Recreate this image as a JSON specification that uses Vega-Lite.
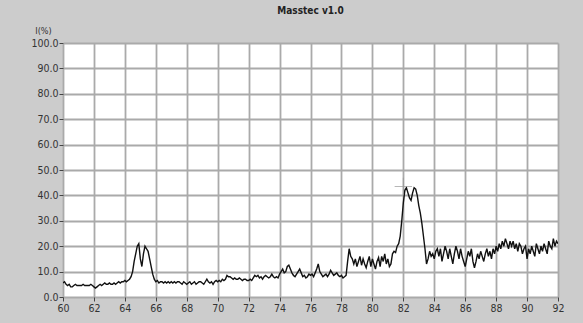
{
  "$schema": "https://vega.github.io/schema/vega-lite/v6.json",
  "width": 495,
  "height": 254,
  "autosize": "none",
  "padding": {"left": 63, "top": 43, "right": 25, "bottom": 26},
  "background": "#cccccc",
  "title": {"text": "Masstec v1.0", "anchor": "middle", "frame": "group", "offset": 10, "fontSize": 10, "fontWeight": "bold", "color": "#222222", "font": "DejaVu Sans Condensed, Liberation Sans"},
  "config": {
    "view": {"fill": "#ffffff", "stroke": null},
    "axis": {"labelFont": "DejaVu Sans Condensed, Liberation Sans", "labelFontSize": 10.5, "labelColor": "#333333", "labelOverlap": false, "gridColor": "#aaaaaa", "gridWidth": 1.8, "gridOpacity": 1, "domain": false, "tickColor": "#444444", "tickSize": 4, "tickWidth": 1}
  },
  "datasets": {
    "spectrum": [
      {"x":60.0,"y":5.5},{"x":60.1,"y":6},{"x":60.2,"y":5},{"x":60.3,"y":4.5},{"x":60.4,"y":5},{"x":60.5,"y":4},{"x":60.6,"y":4},{"x":60.7,"y":4.5},{"x":60.8,"y":5},{"x":60.9,"y":4.5},
      {"x":61.0,"y":4.5},{"x":61.1,"y":4.5},{"x":61.2,"y":4.5},{"x":61.3,"y":5},{"x":61.4,"y":4.5},{"x":61.5,"y":4.5},{"x":61.6,"y":4.5},{"x":61.7,"y":4.5},{"x":61.8,"y":5},{"x":61.9,"y":4.5},
      {"x":62.0,"y":4},{"x":62.1,"y":3.5},{"x":62.2,"y":4},{"x":62.3,"y":4.5},{"x":62.4,"y":5},{"x":62.5,"y":4.5},{"x":62.6,"y":5},{"x":62.7,"y":5.5},{"x":62.8,"y":5},{"x":62.9,"y":5},
      {"x":63.0,"y":5.5},{"x":63.1,"y":5},{"x":63.2,"y":5},{"x":63.3,"y":5.5},{"x":63.4,"y":5},{"x":63.5,"y":5.5},{"x":63.6,"y":6},{"x":63.7,"y":5.5},{"x":63.8,"y":6},{"x":63.9,"y":6},
      {"x":64.0,"y":6.5},{"x":64.1,"y":6},{"x":64.2,"y":6.5},{"x":64.3,"y":7},{"x":64.4,"y":8},{"x":64.5,"y":10},{"x":64.6,"y":14},{"x":64.7,"y":17},{"x":64.8,"y":20},{"x":64.9,"y":21},
      {"x":65.0,"y":15},{"x":65.1,"y":12},{"x":65.2,"y":17},{"x":65.3,"y":20},{"x":65.4,"y":19},{"x":65.5,"y":18},{"x":65.6,"y":15},{"x":65.7,"y":12},{"x":65.8,"y":9},{"x":65.9,"y":7},
      {"x":66.0,"y":6},{"x":66.1,"y":6.5},{"x":66.2,"y":5.5},{"x":66.3,"y":6},{"x":66.4,"y":6},{"x":66.5,"y":5.5},{"x":66.6,"y":6},{"x":66.7,"y":5.5},{"x":66.8,"y":6},{"x":66.9,"y":5.5},
      {"x":67.0,"y":6},{"x":67.1,"y":5.5},{"x":67.2,"y":6},{"x":67.3,"y":5.5},{"x":67.4,"y":6},{"x":67.5,"y":6},{"x":67.6,"y":5.5},{"x":67.7,"y":5},{"x":67.8,"y":6},{"x":67.9,"y":5.5},
      {"x":68.0,"y":5},{"x":68.1,"y":5.5},{"x":68.2,"y":6},{"x":68.3,"y":5},{"x":68.4,"y":5.5},{"x":68.5,"y":6},{"x":68.6,"y":5},{"x":68.7,"y":5.5},{"x":68.8,"y":6},{"x":68.9,"y":6},
      {"x":69.0,"y":5.5},{"x":69.1,"y":5},{"x":69.2,"y":6},{"x":69.3,"y":7},{"x":69.4,"y":6},{"x":69.5,"y":5.5},{"x":69.6,"y":6},{"x":69.7,"y":5},{"x":69.8,"y":6},{"x":69.9,"y":6.5},
      {"x":70.0,"y":6},{"x":70.1,"y":6.5},{"x":70.2,"y":6},{"x":70.3,"y":7},{"x":70.4,"y":6.5},{"x":70.5,"y":7},{"x":70.6,"y":8.5},{"x":70.7,"y":8},{"x":70.8,"y":8},{"x":70.9,"y":7.5},
      {"x":71.0,"y":7},{"x":71.1,"y":7.5},{"x":71.2,"y":7},{"x":71.3,"y":7},{"x":71.4,"y":7.5},{"x":71.5,"y":7},{"x":71.6,"y":6.5},{"x":71.7,"y":7},{"x":71.8,"y":7},{"x":71.9,"y":6.5},
      {"x":72.0,"y":6.5},{"x":72.1,"y":7},{"x":72.2,"y":6.5},{"x":72.3,"y":7.5},{"x":72.4,"y":8.5},{"x":72.5,"y":8},{"x":72.6,"y":8.5},{"x":72.7,"y":7.5},{"x":72.8,"y":8},{"x":72.9,"y":7},
      {"x":73.0,"y":8},{"x":73.1,"y":8.5},{"x":73.2,"y":8},{"x":73.3,"y":7.5},{"x":73.4,"y":8},{"x":73.5,"y":9},{"x":73.6,"y":8},{"x":73.7,"y":7.5},{"x":73.8,"y":8},{"x":73.9,"y":7.5},
      {"x":74.0,"y":9},{"x":74.1,"y":10},{"x":74.2,"y":11},{"x":74.3,"y":9.5},{"x":74.4,"y":10},{"x":74.5,"y":12},{"x":74.6,"y":12.5},{"x":74.7,"y":11},{"x":74.8,"y":9.5},{"x":74.9,"y":8.5},
      {"x":75.0,"y":8},{"x":75.1,"y":9},{"x":75.2,"y":10},{"x":75.3,"y":11},{"x":75.4,"y":9.5},{"x":75.5,"y":8},{"x":75.6,"y":8.5},{"x":75.7,"y":7.5},{"x":75.8,"y":8},{"x":75.9,"y":9},
      {"x":76.0,"y":8.5},{"x":76.1,"y":9},{"x":76.2,"y":8},{"x":76.3,"y":9.5},{"x":76.4,"y":11},{"x":76.5,"y":13},{"x":76.6,"y":10},{"x":76.7,"y":9},{"x":76.8,"y":8},{"x":76.9,"y":8.5},
      {"x":77.0,"y":9},{"x":77.1,"y":8},{"x":77.2,"y":9},{"x":77.3,"y":10.5},{"x":77.4,"y":9.5},{"x":77.5,"y":8.5},{"x":77.6,"y":9},{"x":77.7,"y":9.5},{"x":77.8,"y":8.5},{"x":77.9,"y":8},
      {"x":78.0,"y":8.5},{"x":78.1,"y":7.5},{"x":78.2,"y":8},{"x":78.3,"y":8.5},{"x":78.4,"y":14},{"x":78.5,"y":19},{"x":78.6,"y":16},{"x":78.7,"y":15},{"x":78.8,"y":13},{"x":78.9,"y":15},
      {"x":79.0,"y":12},{"x":79.1,"y":14},{"x":79.2,"y":16},{"x":79.3,"y":12.5},{"x":79.4,"y":15},{"x":79.5,"y":13},{"x":79.6,"y":11.5},{"x":79.7,"y":14},{"x":79.8,"y":16},{"x":79.9,"y":12},
      {"x":80.0,"y":15},{"x":80.1,"y":13},{"x":80.2,"y":11},{"x":80.3,"y":14},{"x":80.4,"y":15.5},{"x":80.5,"y":12},{"x":80.6,"y":16},{"x":80.7,"y":14},{"x":80.8,"y":17},{"x":80.9,"y":13},
      {"x":81.0,"y":15},{"x":81.1,"y":12},{"x":81.2,"y":13},{"x":81.3,"y":17},{"x":81.4,"y":18},{"x":81.5,"y":17.5},{"x":81.6,"y":20},{"x":81.7,"y":21},{"x":81.8,"y":24},{"x":81.9,"y":30},
      {"x":82.0,"y":37},{"x":82.1,"y":42},{"x":82.2,"y":43},{"x":82.3,"y":41},{"x":82.4,"y":39},{"x":82.5,"y":38},{"x":82.6,"y":41},{"x":82.7,"y":43},{"x":82.8,"y":42.5},{"x":82.9,"y":40},
      {"x":83.0,"y":36},{"x":83.1,"y":33},{"x":83.2,"y":29},{"x":83.3,"y":24},{"x":83.4,"y":19},{"x":83.5,"y":13},{"x":83.6,"y":15},{"x":83.7,"y":18},{"x":83.8,"y":16},{"x":83.9,"y":17},
      {"x":84.0,"y":15},{"x":84.1,"y":18},{"x":84.2,"y":19},{"x":84.3,"y":16},{"x":84.4,"y":19},{"x":84.5,"y":14},{"x":84.6,"y":17},{"x":84.7,"y":20},{"x":84.8,"y":18},{"x":84.9,"y":15},
      {"x":85.0,"y":19},{"x":85.1,"y":16},{"x":85.2,"y":13},{"x":85.3,"y":17},{"x":85.4,"y":20},{"x":85.5,"y":18},{"x":85.6,"y":15},{"x":85.7,"y":19},{"x":85.8,"y":16},{"x":85.9,"y":14},
      {"x":86.0,"y":12},{"x":86.1,"y":15},{"x":86.2,"y":18},{"x":86.3,"y":16},{"x":86.4,"y":19},{"x":86.5,"y":14},{"x":86.6,"y":11.5},{"x":86.7,"y":14},{"x":86.8,"y":17},{"x":86.9,"y":15},
      {"x":87.0,"y":18},{"x":87.1,"y":16},{"x":87.2,"y":14},{"x":87.3,"y":17},{"x":87.4,"y":19},{"x":87.5,"y":16},{"x":87.6,"y":18},{"x":87.7,"y":15},{"x":87.8,"y":19},{"x":87.9,"y":17},
      {"x":88.0,"y":20},{"x":88.1,"y":18},{"x":88.2,"y":21},{"x":88.3,"y":19},{"x":88.4,"y":22},{"x":88.5,"y":20},{"x":88.6,"y":23},{"x":88.7,"y":21},{"x":88.8,"y":19},{"x":88.9,"y":22},
      {"x":89.0,"y":20},{"x":89.1,"y":22},{"x":89.2,"y":19},{"x":89.3,"y":21},{"x":89.4,"y":18},{"x":89.5,"y":21},{"x":89.6,"y":20},{"x":89.7,"y":17},{"x":89.8,"y":19},{"x":89.9,"y":20},
      {"x":90.0,"y":15},{"x":90.1,"y":19},{"x":90.2,"y":17},{"x":90.3,"y":20},{"x":90.4,"y":18},{"x":90.5,"y":16},{"x":90.6,"y":21},{"x":90.7,"y":19},{"x":90.8,"y":17},{"x":90.9,"y":20},
      {"x":91.0,"y":18},{"x":91.1,"y":21},{"x":91.2,"y":19},{"x":91.3,"y":17},{"x":91.4,"y":22},{"x":91.5,"y":20},{"x":91.6,"y":19},{"x":91.7,"y":23},{"x":91.8,"y":20},{"x":91.9,"y":22},
      {"x":92.0,"y":21}
    ],
    "cursor": [{"x": 82.0, "y": 43.5}]
  },
  "encoding": {
    "x": {"field": "x", "type": "quantitative", "scale": {"domain": [60, 92], "nice": false, "zero": false},
          "axis": {"values": [60,62,64,66,68,70,72,74,76,78,80,82,84,86,88,90,92], "tickCount": 17, "labelOverlap": false, "title": null, "labelPadding": 2, "labelFlush": false}},
    "y": {"field": "y", "type": "quantitative", "scale": {"domain": [0, 100], "nice": false},
          "axis": {"values": [0,10,20,30,40,50,60,70,80,90,100], "tickCount": 11, "labelOverlap": false, "format": ".1f", "title": "I(%)", "titleAngle": 0, "titleX": -20, "titleY": -13, "titleAlign": "center", "titleBaseline": "middle", "titleFont": "DejaVu Sans Condensed, Liberation Sans", "titleFontSize": 9, "titleFontWeight": "normal", "titleColor": "#333333", "labelPadding": 1}}
  },
  "layer": [
    {
      "data": {"name": "spectrum"},
      "mark": {"type": "line", "color": "#111111", "strokeWidth": 1.4, "clip": true}
    },
    {
      "data": {"name": "cursor"},
      "mark": {"type": "point", "shape": "M-1,0H1M0,-1V1", "size": 300, "stroke": "#999999", "strokeWidth": 1, "filled": false}
    }
  ]
}
